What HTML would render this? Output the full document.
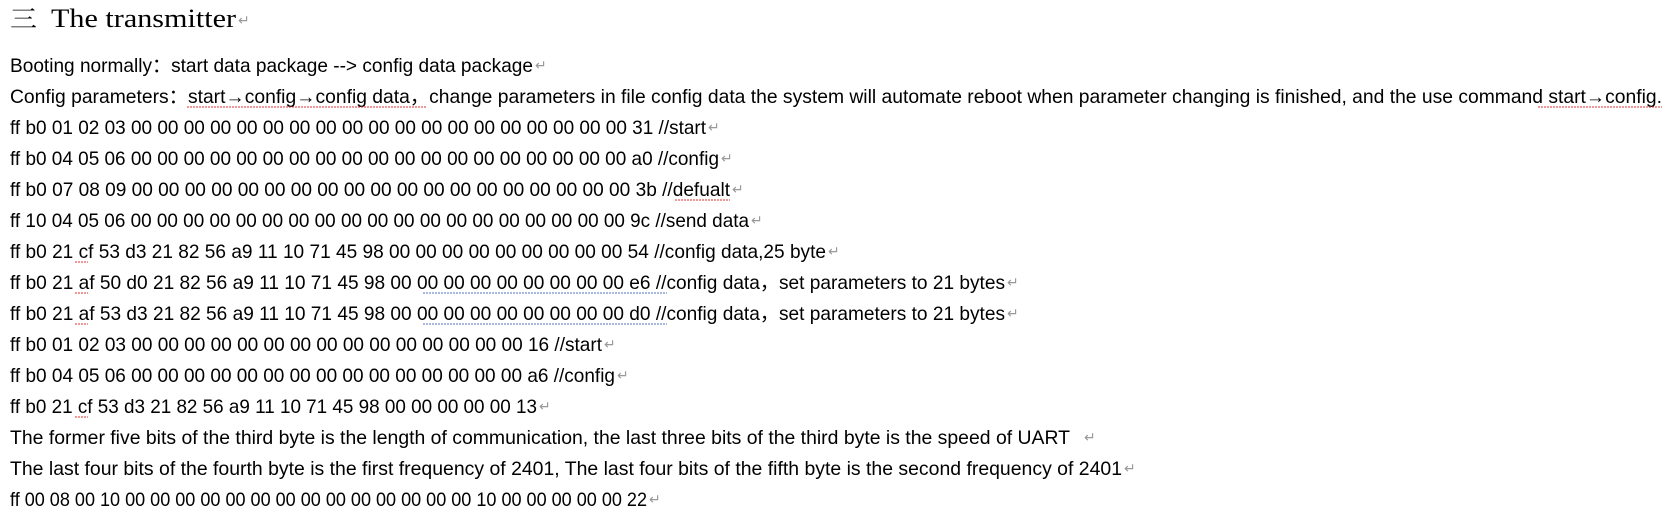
<!DOCTYPE html>
<html><head><meta charset="utf-8"><style>
html,body{margin:0;padding:0;background:#fff;}
svg{display:block}
.t{font-family:"Liberation Sans",sans-serif;font-size:19.5px;fill:#000}
.m{font-family:"Liberation Sans",sans-serif;font-size:14px;fill:#999}
</style></head><body>
<svg width="1665" height="514" viewBox="0 0 1665 514" xmlns="http://www.w3.org/2000/svg">
<text x="10" y="27" style="font-family:'Noto Serif CJK SC',serif;font-size:24px;fill:#000" textLength="27" lengthAdjust="spacingAndGlyphs">三</text>
<text x="51" y="27" style="font-family:'Liberation Serif',serif;font-size:26px;fill:#000" textLength="185" lengthAdjust="spacingAndGlyphs">The transmitter</text>
<text x="238" y="25" class="m">↵</text>

<text class="t" x="10" y="72" textLength="523" lengthAdjust="spacingAndGlyphs">Booting normally：start data package --&gt; config data package</text><text class="m" x="535" y="70">↵</text>
<text class="t" x="10" y="103" textLength="1652" lengthAdjust="spacingAndGlyphs">Config parameters：start→config→config data，change parameters in file config data the system will automate reboot when parameter changing is finished, and the use command start→config.</text>
<text class="t" x="10" y="134" textLength="696" lengthAdjust="spacingAndGlyphs">ff b0 01 02 03 00 00 00 00 00 00 00 00 00 00 00 00 00 00 00 00 00 00 00 31 //start</text><text class="m" x="708" y="132">↵</text>
<text class="t" x="10" y="165" textLength="709" lengthAdjust="spacingAndGlyphs">ff b0 04 05 06 00 00 00 00 00 00 00 00 00 00 00 00 00 00 00 00 00 00 00 a0 //config</text><text class="m" x="721" y="163">↵</text>
<text class="t" x="10" y="196" textLength="720" lengthAdjust="spacingAndGlyphs">ff b0 07 08 09 00 00 00 00 00 00 00 00 00 00 00 00 00 00 00 00 00 00 00 3b //defualt</text><text class="m" x="732" y="194">↵</text>
<text class="t" x="10" y="227" textLength="739" lengthAdjust="spacingAndGlyphs">ff 10 04 05 06 00 00 00 00 00 00 00 00 00 00 00 00 00 00 00 00 00 00 00 9c //send data</text><text class="m" x="751" y="225">↵</text>
<text class="t" x="10" y="258" textLength="816" lengthAdjust="spacingAndGlyphs">ff b0 21 cf 53 d3 21 82 56 a9 11 10 71 45 98 00 00 00 00 00 00 00 00 00 54 //config data,25 byte</text><text class="m" x="828" y="256">↵</text>
<text class="t" x="10" y="289" textLength="995" lengthAdjust="spacingAndGlyphs">ff b0 21 af 50 d0 21 82 56 a9 11 10 71 45 98 00 00 00 00 00 00 00 00 00 e6 //config data，set parameters to 21 bytes</text><text class="m" x="1007" y="287">↵</text>
<text class="t" x="10" y="320" textLength="995" lengthAdjust="spacingAndGlyphs">ff b0 21 af 53 d3 21 82 56 a9 11 10 71 45 98 00 00 00 00 00 00 00 00 00 d0 //config data，set parameters to 21 bytes</text><text class="m" x="1007" y="318">↵</text>
<text class="t" x="10" y="351" textLength="592" lengthAdjust="spacingAndGlyphs">ff b0 01 02 03 00 00 00 00 00 00 00 00 00 00 00 00 00 00 00 16 //start</text><text class="m" x="604" y="349">↵</text>
<text class="t" x="10" y="382" textLength="605" lengthAdjust="spacingAndGlyphs">ff b0 04 05 06 00 00 00 00 00 00 00 00 00 00 00 00 00 00 00 a6 //config</text><text class="m" x="617" y="380">↵</text>
<text class="t" x="10" y="413" textLength="527" lengthAdjust="spacingAndGlyphs">ff b0 21 cf 53 d3 21 82 56 a9 11 10 71 45 98 00 00 00 00 00 13</text><text class="m" x="539" y="411">↵</text>
<text class="t" x="10" y="444" textLength="1060" lengthAdjust="spacingAndGlyphs">The former five bits of the third byte is the length of communication, the last three bits of the third byte is the speed of UART</text><text class="m" x="1084" y="442">↵</text>
<text class="t" x="10" y="475" textLength="1112" lengthAdjust="spacingAndGlyphs">The last four bits of the fourth byte is the first frequency of 2401, The last four bits of the fifth byte is the second frequency of 2401</text><text class="m" x="1124" y="473">↵</text>
<text class="t" x="10" y="506" textLength="637" lengthAdjust="spacingAndGlyphs">ff 00 08 00 10 00 00 00 00 00 00 00 00 00 00 00 00 00 00 10 00 00 00 00 00 22</text><text class="m" x="649" y="504">↵</text>

<g stroke="#e03030" stroke-width="1" fill="none" stroke-dasharray="2 1">
<line x1="187" y1="107" x2="427" y2="107"/>
<line x1="1538" y1="107" x2="1662" y2="107"/>
<line x1="675" y1="200" x2="730" y2="200"/>
<line x1="75" y1="262" x2="88" y2="262"/>
<line x1="75" y1="293" x2="88" y2="293"/>
<line x1="75" y1="324" x2="88" y2="324"/>
<line x1="75" y1="417" x2="88" y2="417"/>
</g>
<g stroke="#5070c0" stroke-width="1" stroke-dasharray="2 1">
<line x1="423" y1="293" x2="667" y2="293"/>
<line x1="423" y1="324" x2="667" y2="324"/>
</g>
</svg>
</body></html>
